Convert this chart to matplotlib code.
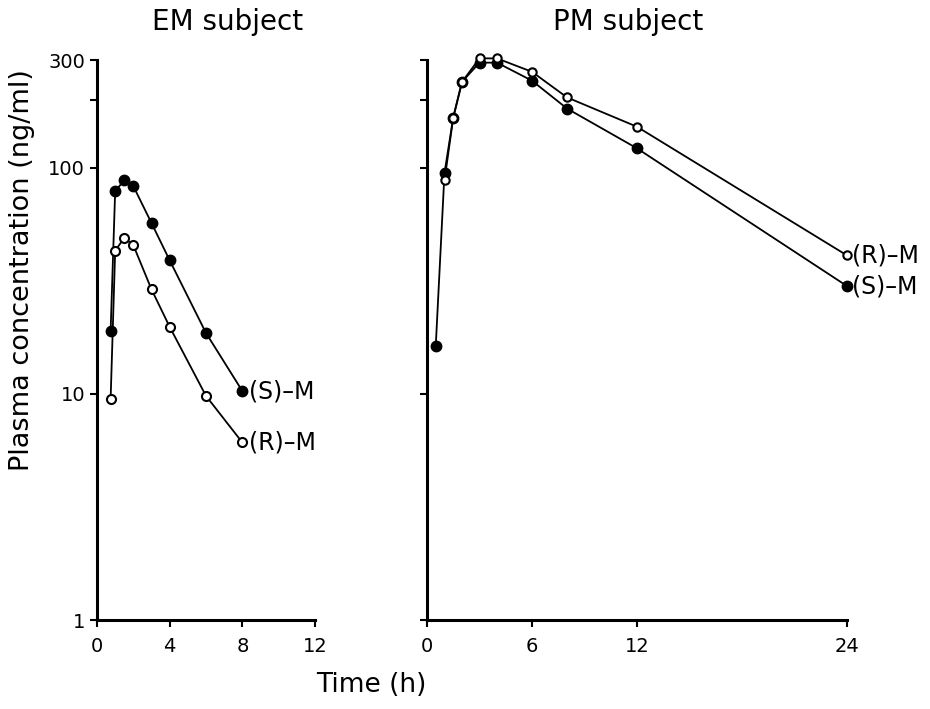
import matplotlib
matplotlib.use("Agg")
import matplotlib.pyplot as plt

# EM subject
em_t = [0.75, 1, 1.5, 2, 3, 4, 6, 8]
em_s = [19, 79, 88, 83, 57, 39, 18.6, 10.3]
em_r = [9.5, 43, 49, 45.5, 29, 19.8, 9.8, 6.1]

# PM subject
pm_t_s = [0.5, 1, 1.5, 2, 3, 4, 6, 8, 12, 24]
pm_s = [16.3, 95, 167, 240, 292, 292, 243, 183, 122, 30]
pm_t_r = [1, 1.5, 2, 3, 4, 6, 8, 12, 24]
pm_r = [88, 167, 240, 305, 305, 266, 205, 152, 41]

plt.rcParams['font.family'] = ['DejaVu Sans']

fig = plt.figure(figsize=(9.3, 7.09), dpi=100)
ax1 = fig.add_axes([97 / 930, 1 - 620 / 709, 218 / 930, 560 / 709])
ax2 = fig.add_axes([427 / 930, 1 - 620 / 709, 420 / 930, 560 / 709])


def style(ax, xmax, xticks):
    ax.set_yscale('log')
    ax.set_ylim(1, 300)
    ax.set_xlim(0, xmax)
    ax.set_xticks(xticks)
    for s in ['top', 'right']:
        ax.spines[s].set_visible(False)
    for s in ['left', 'bottom']:
        ax.spines[s].set_linewidth(2.2)
    ax.tick_params(axis='both', which='major', direction='out', length=5, width=1.5,
                   labelsize=14)
    ax.tick_params(axis='x', pad=7)
    ax.tick_params(axis='y', which='minor', length=0)
    ax.set_yticks([1, 10, 100, 200, 300])


style(ax1, 12, [0, 4, 8, 12])
ax1.set_yticklabels(['1', '10', '100', '', '300'])
style(ax2, 24, [0, 6, 12, 24])
ax2.set_yticklabels([])

line_kw = dict(color='black', linewidth=1.3, clip_on=False)
ax1.plot(em_t, em_s, marker='o', markersize=7.5, markerfacecolor='black',
         markeredgecolor='black', **line_kw)
ax1.plot(em_t, em_r, marker='o', markersize=6.5, markerfacecolor='white',
         markeredgecolor='black', markeredgewidth=1.5, **line_kw)
ax2.plot(pm_t_s, pm_s, marker='o', markersize=7.5, markerfacecolor='black',
         markeredgecolor='black', **line_kw)
ax2.plot(pm_t_r, pm_r, marker='o', markersize=6, markerfacecolor='white',
         markeredgecolor='black', markeredgewidth=1.5, **line_kw)

lab_kw = dict(fontsize=17, va='center', ha='left')
ax1.text(em_t[-1] + 0.35, em_s[-1], '(S)–M', **lab_kw)
ax1.text(em_t[-1] + 0.35, em_r[-1], '(R)–M', **lab_kw)
ax2.text(pm_t_r[-1] + 0.3, pm_r[-1], '(R)–M', **lab_kw)
ax2.text(pm_t_s[-1] + 0.3, pm_s[-1], '(S)–M', **lab_kw)

fig.text(228 / 930, 1 - 22 / 709, 'EM subject', fontsize=20, ha='center', va='center')
fig.text(628 / 930, 1 - 22 / 709, 'PM subject', fontsize=20, ha='center', va='center')
fig.text(22 / 930, 1 - 270 / 709, 'Plasma concentration (ng/ml)', rotation=90,
         fontsize=19.5, ha='center', va='center')
fig.text(371 / 930, 1 - 685 / 709, 'Time (h)', fontsize=19, ha='center', va='center')

fig.savefig('out.png', dpi=100)
